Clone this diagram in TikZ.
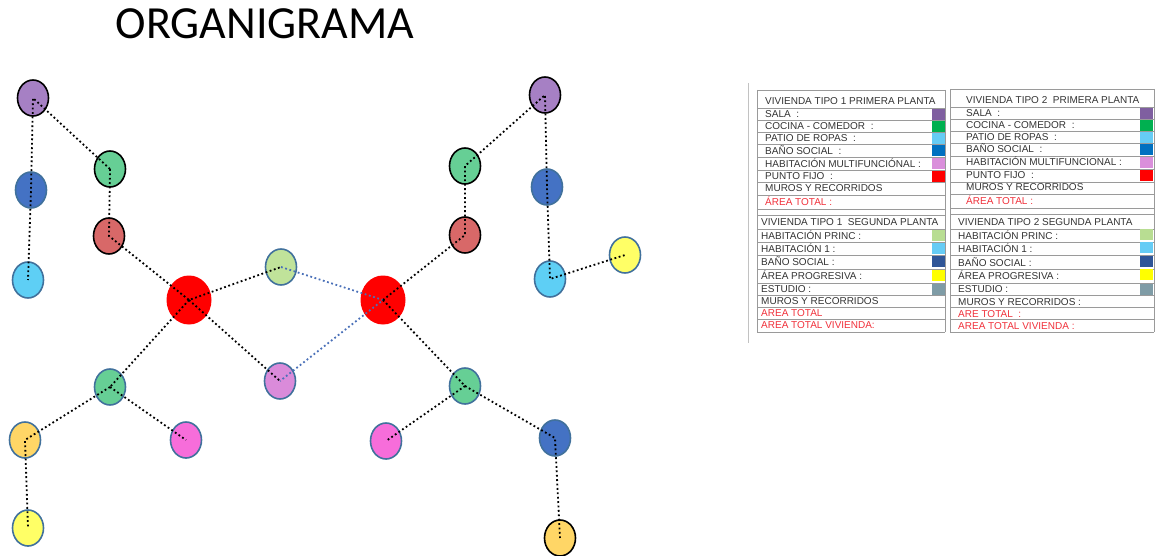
\documentclass[tikz,border=0pt]{standalone}
\usepackage{fontspec}
\setmainfont{Liberation Sans}
\newfontfamily\titlefont{Carlito}
\usetikzlibrary{shapes.geometric}
\definecolor{edgeblue}{HTML}{41719C}
\definecolor{cPurple}{HTML}{A680C4}
\definecolor{cGreen}{HTML}{66CF95}
\definecolor{cBrick}{HTML}{D86868}
\definecolor{cBlue}{HTML}{4472C4}
\definecolor{cSky}{HTML}{5ECFF5}
\definecolor{cLime}{HTML}{C0E39A}
\definecolor{cLav}{HTML}{DA8BDA}
\definecolor{cPink}{HTML}{F76DDA}
\definecolor{cGold}{HTML}{FFD666}
\definecolor{cYellow}{HTML}{FFFF66}
\definecolor{linkblue}{HTML}{4A70B8}
\definecolor{txt}{HTML}{333333}
\definecolor{txtred}{HTML}{F0303A}
\definecolor{rule}{HTML}{9A9A9A}
\definecolor{kSala}{HTML}{7F5FA0}
\definecolor{kCocina}{HTML}{00B050}
\definecolor{kPatio}{HTML}{66CCF5}
\definecolor{kBano}{HTML}{0070C0}
\definecolor{kMulti}{HTML}{DA8FDB}
\definecolor{kFijo}{HTML}{FF0000}
\definecolor{kPrinc}{HTML}{B8DD92}
\definecolor{kBano2}{HTML}{2F5597}
\definecolor{kProg}{HTML}{FFFF00}
\definecolor{kEstudio}{HTML}{7F9CA6}
\begin{document}
\begin{tikzpicture}[x=1pt,y=-1pt,
  room/.style={ellipse, minimum width=31pt, minimum height=36pt, inner sep=0pt,
               line width=1.6pt, draw=edgeblue},
  roomk/.style={room, draw=black},
  hub/.style={ellipse, fill=red, minimum width=45pt, minimum height=49pt, inner sep=0pt},
  link/.style={line width=1.8pt, dash pattern=on 1.8pt off 2.6pt, black},
  linkb/.style={link, linkblue},
  lbl/.style={anchor=base west, inner sep=0pt, font=\fontsize{10}{11}\selectfont, text=txt},
  lblr/.style={lbl, text=txtred},
  key/.style={minimum width=12.5pt, minimum height=11pt, inner sep=0pt, anchor=north west},
  tline/.style={rule, line width=0.7pt}
]
\useasboundingbox (0,0) rectangle (1156,556);

% title
\node (title) at (265,24) {\titlefont\fontsize{46}{50}\selectfont ORGANIGRAMA};

% ---- rooms ----
\node[roomk, fill=cPurple] (p1) at (33,98) {};
\node[roomk, fill=cGreen]  (g1) at (110,169) {};
\node[room,  fill=cBlue]   (b1) at (31,190) {};
\node[room,  fill=cSky]    (s1) at (28,280) {};
\node[roomk, fill=cBrick]  (r1) at (109,236) {};
\node[hub]                 (h1) at (189,300) {};
\node[room,  fill=cLime]   (lg) at (281,267) {};
\node[room,  fill=cLav]    (lv) at (280,381) {};
\node[hub]                 (h2) at (383,300) {};
\node[roomk, fill=cBrick]  (r2) at (465,235) {};
\node[roomk, fill=cGreen]  (g2) at (465,166) {};
\node[roomk, fill=cPurple] (p2) at (545,95) {};
\node[room,  fill=cBlue]   (b2) at (547,187) {};
\node[room,  fill=cSky]    (s2) at (550,279) {};
\node[room,  fill=cYellow] (y2) at (625,255) {};
\node[room,  fill=cGreen]  (g3) at (110,387) {};
\node[room,  fill=cGold]   (o1) at (25,440) {};
\node[room,  fill=cYellow] (y1) at (28,528) {};
\node[room,  fill=cPink]   (k1) at (186,440) {};
\node[room,  fill=cGreen]  (g4) at (465,386) {};
\node[room,  fill=cPink]   (k2) at (386,441) {};
\node[room,  fill=cBlue]   (b3) at (555,438) {};
\node[roomk, fill=cGold]   (o2) at (560,538) {};

% ---- connections ----
\draw[link] (g1.center) -- (p1.center) -- (b1.center) -- (s1.center);
\draw[link] (g1.center) -- (r1.center) -- (h1.center) -- (lg.center);
\draw[link] (h1.center) -- (lv.center);
\draw[link] (h1.center) -- (g3.center);
\draw[link] (g3.center) -- (o1.center) -- (y1.center);
\draw[link] (g3.center) -- (k1.center);
\draw[linkb] (lg.center) -- (h2.center) -- (lv.center);
\draw[link] (h2.center) -- (r2.center) -- (g2.center) -- (p2.center) -- (b2.center) -- (s2.center) -- (y2.center);
\draw[link] (h2.center) -- (g4.center) -- (k2.center);
\draw[link] (g4.center) -- (b3.center) -- (o2.center);

% ---- legend table ----
\draw[rule!60, line width=0.6pt] (748,83) -- (748,343);
% left column frame
\foreach \y in {90,108,120,132,144,157,170,182,195,209,215,229,242,255,269,283,295,307,319,332}
  \draw[tline] (757,\y) -- (945,\y);
\foreach \y in {89,107,119,131,143,156,169,182,194,208,214,229,242,255,269,283,295,307,319,332}
  \draw[tline] (950,\y) -- (1154,\y);
\draw[tline] (757,90) -- (757,332);
\draw[tline] (945,90) -- (945,332);
\draw[tline] (950,89) -- (950,332);
\draw[tline] (1154,89) -- (1154,332);

% VIVIENDA TIPO 1 PRIMERA PLANTA
\node[lbl] (a0) at (765,104.5) {VIVIENDA TIPO 1 PRIMERA PLANTA};
\node[lbl] (a1) at (765,117.5) {SALA \ :};
\node[lbl] (a2) at (765,129.5) {COCINA - COMEDOR \ :};
\node[lbl] (a3) at (765,141.5) {PATIO DE ROPAS \ :};
\node[lbl] (a4) at (765,154.5) {BAÑO SOCIAL \ :};
\node[lbl] (a5) at (765,167.5) {HABITACIÓN MULTIFUNCIÓNAL :};
\node[lbl] (a6) at (765,179.5) {PUNTO FIJO \ :};
\node[lbl] (a7) at (765,191.5) {MUROS Y RECORRIDOS};
\node[lblr] (a8) at (765,205.5) {ÁREA TOTAL :};
\node[key, fill=kSala]   (ka1) at (932,109) {};
\node[key, fill=kCocina] (ka2) at (932,121) {};
\node[key, fill=kPatio]  (ka3) at (932,133) {};
\node[key, fill=kBano]   (ka4) at (932,145) {};
\node[key, fill=kMulti]  (ka5) at (932,158) {};
\node[key, fill=kFijo]   (ka6) at (932,171) {};

% VIVIENDA TIPO 2 PRIMERA PLANTA
\node[lbl] (b0) at (966,103.5) {VIVIENDA TIPO 2 \ PRIMERA PLANTA};
\node[lbl] (bb1) at (966,116.5) {SALA \ :};
\node[lbl] (bb2) at (966,128.5) {COCINA - COMEDOR \ :};
\node[lbl] (bb3) at (966,140.5) {PATIO DE ROPAS \ :};
\node[lbl] (bb4) at (966,152.5) {BAÑO SOCIAL \ :};
\node[lbl] (bb5) at (966,165.5) {HABITACIÓN MULTIFUNCIONAL :};
\node[lbl] (bb6) at (966,178.5) {PUNTO FIJO \ :};
\node[lbl] (bb7) at (966,190.5) {MUROS Y RECORRIDOS};
\node[lblr] (bb8) at (966,204.5) {ÁREA TOTAL :};
\node[key, fill=kSala]   (kb1) at (1140,108) {};
\node[key, fill=kCocina] (kb2) at (1140,120) {};
\node[key, fill=kPatio]  (kb3) at (1140,132) {};
\node[key, fill=kBano]   (kb4) at (1140,144) {};
\node[key, fill=kMulti]  (kb5) at (1140,157) {};
\node[key, fill=kFijo]   (kb6) at (1140,170) {};

% VIVIENDA TIPO 1 SEGUNDA PLANTA
\node[lbl] (c0) at (761,225.5) {VIVIENDA TIPO 1 \ SEGUNDA PLANTA};
\node[lbl] (c1) at (761,239.5) {HABITACIÓN PRINC :};
\node[lbl] (c2) at (761,252.5) {HABITACIÓN 1 :};
\node[lbl] (c3) at (761,265.5) {BAÑO SOCIAL :};
\node[lbl] (c4) at (761,279.5) {ÁREA PROGRESIVA :};
\node[lbl] (c5) at (761,292.5) {ESTUDIO :};
\node[lbl] (c6) at (761,304.5) {MUROS Y RECORRIDOS};
\node[lblr] (c7) at (761,316.5) {AREA TOTAL};
\node[lblr] (c8) at (761,328.5) {AREA TOTAL VIVIENDA:};
\node[key, fill=kPrinc]   (kc1) at (932,230) {};
\node[key, fill=kPatio]   (kc2) at (932,243) {};
\node[key, fill=kBano2]   (kc3) at (932,256) {};
\node[key, fill=kProg]    (kc4) at (932,270) {};
\node[key, fill=kEstudio] (kc5) at (932,284) {};

% VIVIENDA TIPO 2 SEGUNDA PLANTA
\node[lbl] (d0) at (958,225.5) {VIVIENDA TIPO 2 SEGUNDA PLANTA};
\node[lbl] (d1) at (958,239.5) {HABITACIÓN PRINC :};
\node[lbl] (d2) at (958,252.5) {HABITACIÓN 1 :};
\node[lbl] (d3) at (958,266.5) {BAÑO SOCIAL :};
\node[lbl] (d4) at (958,279.5) {ÁREA PROGRESIVA :};
\node[lbl] (d5) at (958,292.5) {ESTUDIO :};
\node[lbl] (d6) at (958,305.5) {MUROS Y RECORRIDOS :};
\node[lblr] (d7) at (958,317.5) {ARE TOTAL \ :};
\node[lblr] (d8) at (958,329.5) {AREA TOTAL VIVIENDA :};
\node[key, fill=kPrinc]   (kd1) at (1140,229) {};
\node[key, fill=kPatio]   (kd2) at (1140,242) {};
\node[key, fill=kBano2]   (kd3) at (1140,256) {};
\node[key, fill=kProg]    (kd4) at (1140,269) {};
\node[key, fill=kEstudio] (kd5) at (1140,284) {};
\end{tikzpicture}
\end{document}
